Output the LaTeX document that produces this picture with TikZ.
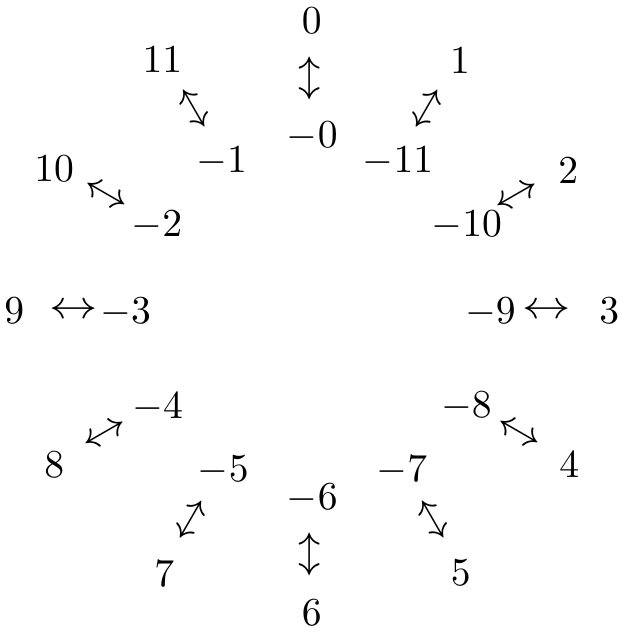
\documentclass[tikz,border=0pt]{standalone}
\usepackage{graphicx}
\usetikzlibrary{calc}
\newcommand{\wideLR}{\scalebox{1.22}[1]{$\leftrightarrow$}}
\begin{document}
\begin{tikzpicture}[x=0.2525pt,y=-0.2525pt,
  lab/.style={inner sep=0pt, text depth=0pt},
  arr/.style={inner sep=0pt, text height=0.367em, text depth=-0.133em}]
\useasboundingbox (0,0) rectangle (622,633);
% outer ring
\node[lab] (o0)  at (311.7,20.8)  {$0$};
\node[lab] (o1)  at (460.0,61.0)  {$1$};
\node[lab] (o2)  at (568.3,170.5) {$2$};
\node[lab] (o3)  at (609.2,311.0) {$3$};
\node[lab] (o4)  at (569.2,464.5) {$4$};
\node[lab] (o5)  at (460.8,573.0) {$5$};
\node[lab] (o6)  at (311.7,612.5) {$6$};
\node[lab] (o7)  at (164.2,574.0) {$7$};
\node[lab] (o8)  at (54.2,464.5)  {$8$};
\node[lab] (o9)  at (14.2,311.0)  {$9$};
\node[lab] (o10) at (54.2,168.5)  {$10$};
\node[lab] (o11) at (162.5,59.5)  {$11$};
% inner ring
\node[lab] (i0)  at (312.3,135.0) {$-0$};
\node[lab] (i1)  at (221.6,160.0) {$-1$};
\node[lab] (i2)  at (156.8,223.5) {$-2$};
\node[lab] (i3)  at (125.5,311.0) {$-3$};
\node[lab] (i4)  at (157.5,405.5) {$-4$};
\node[lab] (i5)  at (223.3,468.5) {$-5$};
\node[lab] (i6)  at (312.3,496.7) {$-6$};
\node[lab] (i7)  at (401.8,469.0) {$-7$};
\node[lab] (i8)  at (466.5,405.0) {$-8$};
\node[lab] (i9)  at (490.5,311.0) {$-9$};
\node[lab] (i10) at (466.8,224.0) {$-10$};
\node[lab] (i11) at (398.0,159.5) {$-11$};
% arrows
\node[arr,rotate=90]  (a0)  at ($(o0)!0.5!(i0)$)   {\wideLR};
\node[arr,rotate=60]  (a1)  at ($(o1)!0.5!(i11)$)  {\wideLR};
\node[arr,rotate=30]  (a2)  at ($(o2)!0.5!(i10)$)  {\wideLR};
\node[arr,rotate=0]   (a3)  at ($(o3)!0.53!(i9)$)  {\wideLR};
\node[arr,rotate=-30] (a4)  at ($(o4)!0.5!(i8)$)   {\wideLR};
\node[arr,rotate=-60] (a5)  at ($(o5)!0.5!(i7)$)   {\wideLR};
\node[arr,rotate=90]  (a6)  at ($(o6)!0.5!(i6)$)   {\wideLR};
\node[arr,rotate=60]  (a7)  at ($(o7)!0.5!(i5)$)   {\wideLR};
\node[arr,rotate=30]  (a8)  at ($(o8)!0.5!(i4)$)   {\wideLR};
\node[arr,rotate=0]   (a9)  at ($(o9)!0.53!(i3)$)  {\wideLR};
\node[arr,rotate=-30] (a10) at ($(o10)!0.5!(i2)$)  {\wideLR};
\node[arr,rotate=-60] (a11) at ($(o11)!0.5!(i1)$)  {\wideLR};
\end{tikzpicture}
\end{document}
